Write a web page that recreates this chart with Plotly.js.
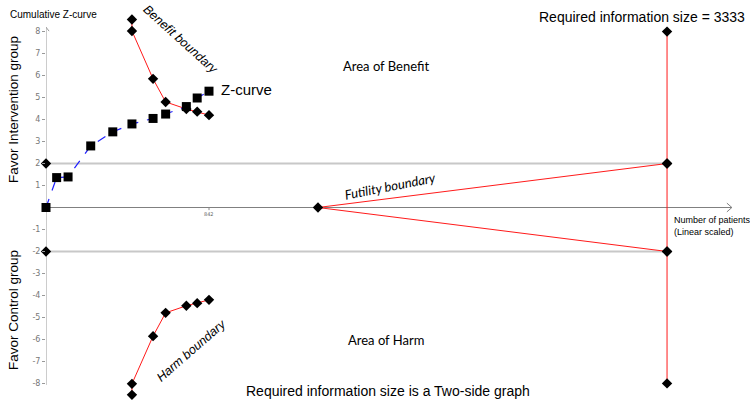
<!DOCTYPE html>
<html>
<head>
<meta charset="utf-8">
<script src="https://cdn.plot.ly/plotly-3.0.1.min.js"></script>
<style>
  body { margin: 0; background: #fff; }
  #plot { width: 750px; height: 402px; }
</style>
</head>
<body>
<div id="plot"></div>
<script>
// cumulative z-curve (patients, z value)
const zPatients = [0, 55, 114, 231, 345, 444, 553, 618, 725, 781, 842];
const zValues = [0, 1.36, 1.39, 2.80, 3.44, 3.80, 4.05, 4.25, 4.59, 4.98, 5.29];

// monitoring boundaries at the same looks
const boundaryPatients = [444, 444, 553, 618, 725, 781, 842];
const benefitZ = [8.55, 8.03, 5.85, 4.80, 4.48, 4.36, 4.20];
const harmZ = [-8.52, -8.02, -5.85, -4.79, -4.47, -4.35, -4.20];

// futility wedge and required information size line
const futilityPatients = [3208, 1405, 3208];
const futilityZ = [2, 0, -2];
const risPatients = [3208, 3208, 3208, 3208];
const risZ = [8, 2, -2, -8];

// conventional z = +-2 level markers on the y axis
const levelPatients = [0, 0];
const levelZ = [2, -2];

const yTicks = [-8, -7, -6, -5, -4, -3, -2, -1, 1, 2, 3, 4, 5, 6, 7, 8];
const xEnd = 3543;   // where the patient axis arrow ends

// plot box in pixels, used to place free text
const L = 46, R = 10, T = 14, B = 1, W = 750, H = 402;
const pw = W - L - R, ph = H - T - B;
function px(x) { return (x - L) / pw; }
function py(y) { return (H - B - y) / ph; }

const diamond = { symbol: "diamond", size: 8, color: "#000" };

let zTrace = {
    x: zPatients, y: zValues,
    mode: "lines+markers", type: "scatter",
    line: { color: "#1f1fff", width: 1.2, dash: "dash" },
    marker: { symbol: "square", size: 9, color: "#000" },
    cliponaxis: false
};
let benefitTrace = {
    x: boundaryPatients, y: benefitZ,
    mode: "lines+markers", type: "scatter",
    line: { color: "#ff1a1a", width: 1 },
    marker: diamond, cliponaxis: false
};
let harmTrace = {
    x: boundaryPatients, y: harmZ,
    mode: "lines+markers", type: "scatter",
    line: { color: "#ff1a1a", width: 1 },
    marker: diamond, cliponaxis: false
};
let futilityTrace = {
    x: futilityPatients, y: futilityZ,
    mode: "lines+markers", type: "scatter",
    line: { color: "#ff1a1a", width: 1 },
    marker: diamond, cliponaxis: false
};
let risTrace = {
    x: risPatients, y: risZ,
    mode: "lines+markers", type: "scatter",
    line: { color: "#ff1a1a", width: 1 },
    marker: diamond, cliponaxis: false
};
let levelTrace = {
    x: levelPatients, y: levelZ,
    mode: "markers", type: "scatter",
    marker: diamond, cliponaxis: false
};

let data = [futilityTrace, risTrace, benefitTrace, harmTrace, levelTrace, zTrace];

function note(text, x, y, size, opts) {
    return Object.assign({
        text: text, xref: "paper", yref: "paper",
        x: px(x), y: py(y), xanchor: "center", yanchor: "middle",
        showarrow: false,
        font: { family: "Liberation Sans, Arial", size: size, color: "#000" }
    }, opts || {});
}

const calibri = "Lato, Carlito, Calibri";
const italicArial = { family: "Liberation Sans, Arial", size: 12.5, color: "#000", style: "italic" };

let layout = {
    width: W, height: H,
    margin: { l: L, r: R, t: T, b: B },
    paper_bgcolor: "#fff", plot_bgcolor: "#fff",
    showlegend: false,
    hovermode: false,
    xaxis: {
        range: [0, 694 / 0.19359],
        showline: false, showgrid: false, zeroline: false,
        showticklabels: false, ticks: ""
    },
    yaxis: {
        range: [-8.8, 8.8],
        showline: false, showgrid: false, zeroline: false,
        tickvals: yTicks, ticktext: yTicks.map(String),
        ticks: "outside", ticklen: 3, tickcolor: "#999",
        tickfont: { family: "DejaVu Sans", size: 8, color: "#777" }
    },
    shapes: [
        // horizontal lines at z = +-2
        { type: "line", layer: "below", x0: 0, x1: 3208, y0: 2, y1: 2, line: { color: "#c8c8c8", width: 2 } },
        { type: "line", layer: "below", x0: 0, x1: 3208, y0: -2, y1: -2, line: { color: "#c8c8c8", width: 2 } },
        // patient axis with arrow
        { type: "line", layer: "below", x0: 0, x1: xEnd, y0: 0, y1: 0, line: { color: "#808080", width: 1 } },
        { type: "path", path: "M " + (xEnd - 26) + " 0.2 L " + xEnd + " 0 L " + (xEnd - 26) + " -0.2",
          line: { color: "#808080", width: 1 } },
        // z axis with arrow
        { type: "line", layer: "below", x0: 0, x1: 0, y0: -8.07, y1: 8.2, line: { color: "#999", width: 1 } },
        { type: "path", path: "M -16 8.02 L 0 8.2 L 16 8.02", line: { color: "#999", width: 1 } },
        // 842 tick
        { type: "line", x0: 842, x1: 842, y0: 0, y1: -0.12, line: { color: "#888", width: 1 } }
    ],
    annotations: [
        note("Cumulative Z-curve", 53, 15, 10),
        note("Favor Intervention group", 13, 110, 13.5, { textangle: -90 }),
        note("Favor Control group", 13, 310, 13.5, { textangle: -90 }),
        note("Benefit boundary", 180, 39, 12.5, { textangle: 42, font: italicArial }),
        note("Harm boundary", 191, 351, 12.5, { textangle: -41, font: italicArial }),
        note("Z-curve", 219, 90, 15, { xanchor: "left" }),
        note("Area of Benefit", 386, 66, 13, { font: { family: calibri, size: 13, color: "#000" } }),
        note("Area of Harm", 386, 340, 13, { font: { family: calibri, size: 13, color: "#000" } }),
        note("Futility boundary", 390, 186, 13, { textangle: -11, font: { family: calibri, size: 13, color: "#000", style: "italic" } }),
        note("Required information size = 3333", 747, 17, 14, { xanchor: "right" }),
        note("Required information size is a Two-side graph", 388, 391, 14),
        note("Number of patients<br>(Linear scaled)", 672, 226, 9, { xanchor: "left", align: "left" }),
        note("842", 209, 214, 5, { font: { family: "DejaVu Sans", size: 5, color: "#666" } })
    ]
};

Plotly.newPlot("plot", data, layout, { displayModeBar: false, staticPlot: true });
</script>
</body>
</html>
